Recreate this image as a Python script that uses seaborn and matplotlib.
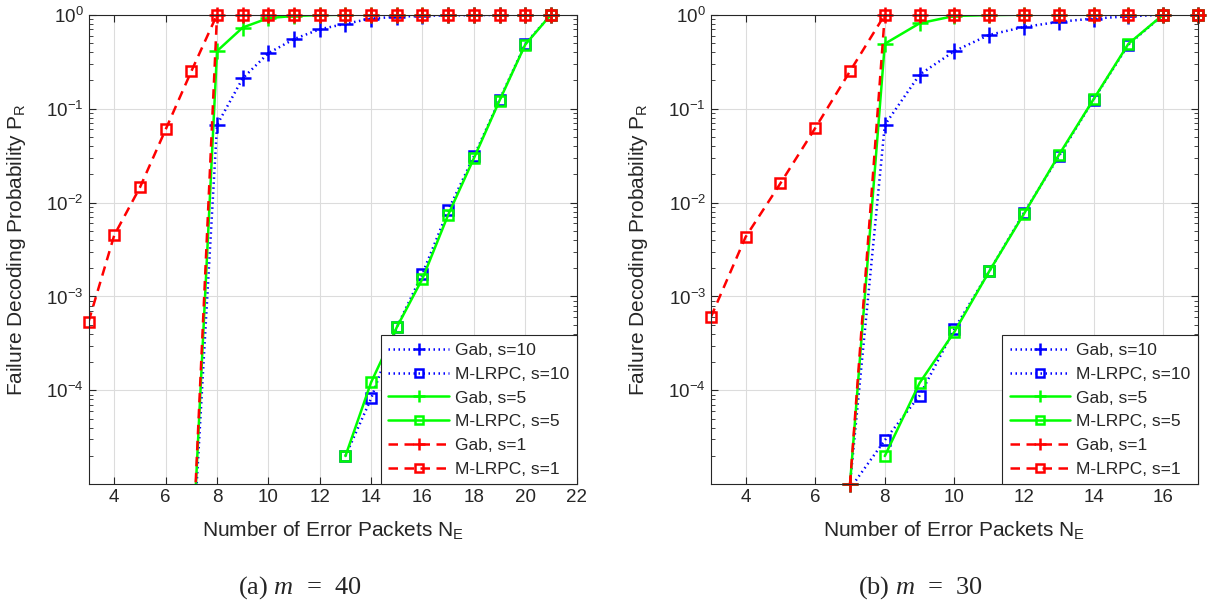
import matplotlib
matplotlib.use("Agg")
import matplotlib.pyplot as plt
import numpy as np
import pandas as pd
import seaborn as sns
from matplotlib.lines import Line2D
from matplotlib.ticker import FixedLocator, LogLocator, NullFormatter

# ---- data ----
# (a) m = 40
x_gab_40 = [7, 8, 9, 10, 11, 12, 13, 14, 15, 16, 17, 18, 19, 20, 21]
gab10_40 = [1e-6, 0.067, 0.21, 0.39, 0.55, 0.70, 0.80, 0.91, 0.95, 0.975, 0.985, 0.99, 0.995, 1.0, 1.0]
gab5_40 = [1e-6, 0.41, 0.73, 0.92, 0.97, 0.99, 1.0, 1.0, 1.0, 1.0, 1.0, 1.0, 1.0, 1.0, 1.0]
gab1_40 = [1e-6, 1.0, 1.0, 1.0, 1.0, 1.0, 1.0, 1.0, 1.0, 1.0, 1.0, 1.0, 1.0, 1.0, 1.0]
x_ml_hi_40 = [13, 14, 15, 16, 17, 18, 19, 20, 21]
mlrpc10_40 = [2e-5, 8.2e-5, 4.7e-4, 1.75e-3, 8.3e-3, 3.1e-2, 0.124, 0.49, 1.0]
mlrpc5_40 = [2e-5, 1.22e-4, 4.7e-4, 1.55e-3, 7.4e-3, 2.96e-2, 0.122, 0.48, 1.0]
x_ml1_40 = [3, 4, 5, 6, 7, 8, 9, 10, 11, 12, 13, 14, 15, 16, 17, 18, 19, 20, 21]
mlrpc1_40 = [5.4e-4, 4.5e-3, 1.45e-2, 6.0e-2, 0.25, 1.0, 1.0, 1.0, 1.0, 1.0, 1.0,
             1.0, 1.0, 1.0, 1.0, 1.0, 1.0, 1.0, 1.0]

# (b) m = 30
x_gab_30 = [7, 8, 9, 10, 11, 12, 13, 14, 15, 16, 17]
gab10_30 = [1e-5, 0.067, 0.23, 0.41, 0.61, 0.74, 0.84, 0.91, 0.96, 1.0, 1.0]
gab5_30 = [1e-5, 0.49, 0.81, 0.97, 0.99, 1.0, 1.0, 1.0, 1.0, 1.0, 1.0]
gab1_30 = [1e-5, 1.0, 1.0, 1.0, 1.0, 1.0, 1.0, 1.0, 1.0, 1.0, 1.0]
x_ml10_30 = [7, 8, 9, 10, 11, 12, 13, 14, 15, 16, 17]
mlrpc10_30 = [9e-6, 2.95e-5, 8.8e-5, 4.5e-4, 1.85e-3, 7.8e-3, 3.1e-2, 0.125, 0.48, 1.0, 1.0]
x_ml5_30 = [8, 9, 10, 11, 12, 13, 14, 15, 16, 17]
mlrpc5_30 = [2e-5, 1.2e-4, 4.2e-4, 1.85e-3, 7.6e-3, 3.2e-2, 0.126, 0.49, 1.0, 1.0]
x_ml1_30 = [3, 4, 5, 6, 7, 8, 9, 10, 11, 12, 13, 14, 15, 16, 17]
mlrpc1_30 = [6e-4, 4.3e-3, 1.6e-2, 6.2e-2, 0.25, 1.0, 1.0, 1.0, 1.0, 1.0, 1.0, 1.0, 1.0, 1.0, 1.0]

labels = ["Gab, s=10", "M-LRPC, s=10", "Gab, s=5", "M-LRPC, s=5", "Gab, s=1", "M-LRPC, s=1"]
x_ticks_40 = [4, 6, 8, 10, 12, 14, 16, 18, 20, 22]
x_ticks_30 = [4, 6, 8, 10, 12, 14, 16]
y_ticks = [1e-4, 1e-3, 1e-2, 1e-1, 1e0]
captions = ["(a) $\\mathit{m}$  =  40", "(b) $\\mathit{m}$  =  30"]

# ---- styles ----
BLUE, GREEN, RED = "#0000ff", "#00ff00", "#ff0000"
DOT = (0, (0.6, 1.4))
DASH = (0, (3.8, 2.6))
styles = [
    (BLUE, DOT, "+"), (BLUE, DOT, "s"),
    (GREEN, "-", "+"), (GREEN, "-", "s"),
    (RED, DASH, "+"), (RED, DASH, "s"),
]
LW = 1.8
MS = {"+": 11, "s": 6.5}
YLO = 1e-5

sns.set_style("ticks")
plt.rcParams["font.family"] = ["Liberation Sans", "DejaVu Sans"]
plt.rcParams["axes.unicode_minus"] = False
plt.rcParams["mathtext.fontset"] = "custom"
plt.rcParams["mathtext.rm"] = "Liberation Sans"
plt.rcParams["mathtext.it"] = "Liberation Serif:italic"
plt.rcParams["mathtext.default"] = "regular"


def draw_series(ax, x, y, color, ls, marker):
  df = pd.DataFrame({"x": x, "y": y})
  # the line itself, clipped to the axes
  sns.lineplot(data=df, x="x", y="y", ax=ax, color=color, linestyle=ls,
               linewidth=LW, estimator=None, sort=False)
  # markers drawn whole, like matlab, only for points inside the limits
  inside = df[df["y"] >= YLO * 0.999]
  sns.lineplot(data=inside, x="x", y="y", ax=ax, color=color, linestyle="none",
               marker=marker, markersize=MS[marker], markerfacecolor="none",
               markeredgecolor=color, markeredgewidth=1.8, estimator=None,
               sort=False, clip_on=False)


def setup_axis(ax, xlim, xticks):
  ax.set_yscale("log")
  ax.set_xlim(*xlim)
  ax.set_ylim(YLO, 1.0)
  ax.xaxis.set_major_locator(FixedLocator(xticks))
  ax.yaxis.set_major_locator(FixedLocator(y_ticks))
  ax.yaxis.set_minor_locator(LogLocator(base=10, subs=np.arange(2, 10)))
  ax.yaxis.set_minor_formatter(NullFormatter())
  ax.grid(True, which="major", color="#dcdcdc", linewidth=0.8)
  ax.set_axisbelow(True)
  ax.tick_params(which="both", direction="in", top=True, right=True,
                 colors="#262626", labelsize=13.5)
  ax.tick_params(which="major", length=5, width=0.8)
  ax.tick_params(which="minor", length=3, width=0.6)
  for sp in ax.spines.values():
    sp.set_visible(True)
    sp.set_color("#262626")
    sp.set_linewidth(0.8)
  ax.set_xlabel("Number of Error Packets N$_\\mathregular{E}$", fontsize=15, color="#262626")
  ax.set_ylabel("Failure Decoding Probability P$_\\mathregular{R}$", fontsize=15, color="#262626")
  ax.xaxis.set_label_coords(0.5, -0.075)
  ax.yaxis.set_label_coords(-0.125, 0.5)

  handles = [Line2D([], [], color=c, linestyle=ls, linewidth=LW, marker=m,
                    markersize=MS[m] * 0.85, markerfacecolor="none", markeredgecolor=c,
                    markeredgewidth=1.8)
             for c, ls, m in styles]
  leg = ax.legend(handles, labels, loc="lower right", borderaxespad=0,
                  fancybox=False, framealpha=1, edgecolor="#262626",
                  fontsize=12.5, handlelength=3.5, handletextpad=0.35,
                  labelspacing=0.5, borderpad=0.42, numpoints=1)
  leg.get_frame().set_linewidth(0.8)


fig = plt.figure(figsize=(12.11, 6.05), dpi=100)
W, H = 1211.0, 605.0
ax1 = fig.add_axes([88.6 / W, 1 - 484.3 / H, (576.6 - 88.6) / W, (484.3 - 14.7) / H])
ax2 = fig.add_axes([710.8 / W, 1 - 484.3 / H, (1198.0 - 710.8) / W, (484.3 - 14.7) / H])

series_40 = [
    (x_gab_40, gab10_40), (x_ml_hi_40, mlrpc10_40),
    (x_gab_40, gab5_40), (x_ml_hi_40, mlrpc5_40),
    (x_gab_40, gab1_40), (x_ml1_40, mlrpc1_40),
]
series_30 = [
    (x_gab_30, gab10_30), (x_ml10_30, mlrpc10_30),
    (x_gab_30, gab5_30), (x_ml5_30, mlrpc5_30),
    (x_gab_30, gab1_30), (x_ml1_30, mlrpc1_30),
]

for ax, series in [(ax1, series_40), (ax2, series_30)]:
  ax.set_yscale("log")
  for (x, y), (c, ls, m) in zip(series, styles):
    draw_series(ax, x, y, c, ls, m)

setup_axis(ax1, (3, 22), x_ticks_40)
setup_axis(ax2, (3, 17), x_ticks_30)

fig.text(300 / W, 1 - 588 / H, captions[0], ha="center", va="center",
         fontsize=19, family="Liberation Serif")
fig.text(920 / W, 1 - 588 / H, captions[1], ha="center", va="center",
         fontsize=19, family="Liberation Serif")

fig.savefig("out.png", dpi=100)
